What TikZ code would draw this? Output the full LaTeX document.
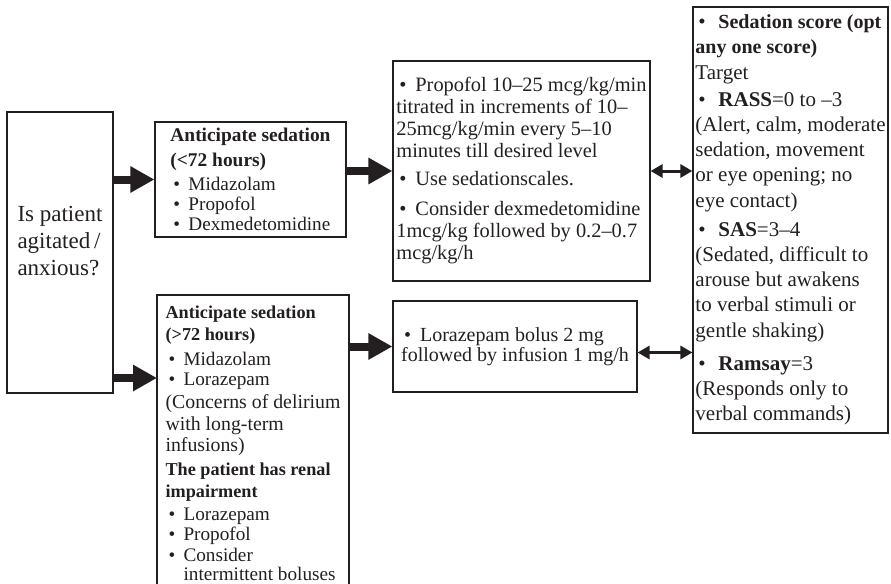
\documentclass[tikz,border=0pt]{standalone}
\usepackage{fontspec}
\setmainfont{Liberation Serif}
\usetikzlibrary{arrows.meta}
\definecolor{ink}{HTML}{231F20}
\newcommand{\bul}[1][9pt]{\makebox[#1][l]{\hspace{1.5pt}\textbullet}}
\newcommand{\itm}[1]{{\fontsize{9.6}{10}\selectfont\bul #1}}
\newcommand{\boxhead}[2][9.2]{{\fontsize{#1}{10}\selectfont\bfseries #2}}

\begin{document}
\begin{tikzpicture}[x=.5pt,y=-.5pt,line width=.6pt,every node/.style={text=ink},
  box/.style={draw=ink,align=left,inner xsep=1pt,inner ysep=0pt},
  fat/.style={ink,line width=4pt,-{Triangle[length=12pt,width=12.5pt]}},
  both/.style={ink,line width=1.5pt,{Triangle[length=6pt,width=6.5pt]}-{Triangle[length=6pt,width=6.5pt]}}]
\useasboundingbox (0,0) rectangle (891,584);

% question on the left
\node[box,minimum width=53pt,minimum height=140.5pt,font=\fontsize{11.5}{13.5}\selectfont] (ask) at (60,252.5)
  {Is patient\\agitated\,/\\anxious?\\[-1.5pt]\mbox{}};

% the two sedation branches
\node[box,minimum width=95.5pt,minimum height=57.5pt,font=\fontsize{9.6}{10}\selectfont] (short) at (250.5,179.5)
  {\boxhead[9.7]{Anticipate sedation}\\[2.5pt]
   \boxhead[9.7]{(<72 hours)}\\[2pt]
   \itm{Midazolam}\\
   \itm{Propofol}\\
   \itm{Dexmedetomidine}};
\node[box,minimum width=96pt,minimum height=148.5pt,font=\fontsize{9.9}{10}\selectfont] (long) at (253,443.5)
  {\boxhead[9.1]{Anticipate sedation}\\[1pt]
   \boxhead[9.1]{(>72 hours)}\\[2.5pt]
   \itm{Midazolam}\\
   \itm{Lorazepam}\\[1.5pt]
   (Concerns of delirium\\[1pt]
   with long-term\\[0.5pt]
   infusions)\\[2pt]
   \boxhead[9.1]{The patient has renal}\\[1pt]
   \boxhead[9.1]{impairment}\\[1.5pt]
   \itm{Lorazepam}\\
   \itm{Propofol}\\[0.5pt]
   \itm{Consider}\\[-0.5pt]
   {\fontsize{9.6}{10}\selectfont\hspace*{9pt}intermittent boluses}};

% dosing
\node[box,minimum width=128.5pt,minimum height=110pt,font=\fontsize{10.2}{11}\selectfont] (titrate) at (521.5,171)
  {\bul[9.5pt]Propofol 10–25 mcg/kg/min\\
   titrated in increments of 10–\\
   25mcg/kg/min every 5–10\\
   minutes till desired level\\[3pt]
   \bul[9.5pt]Use sedationscales.\\[4pt]
   \bul[9.5pt]Consider dexmedetomidine\\
   1mcg/kg followed by 0.2–0.7\\
   mcg/kg/h};
\node[box,minimum width=122pt,minimum height=45.5pt,font=\fontsize{10}{10}\selectfont] (dose) at (515,346.5)
  {\bul[9.5pt]Lorazepam bolus 2 mg\\
   followed by infusion 1 mg/h};

% targets
\node[box,inner xsep=.5pt,minimum width=97.5pt,minimum height=213pt,font=\fontsize{10.5}{12.6}\selectfont] (scores) at (790.5,220)
  {\bul[11.5pt]\boxhead[10]{Sedation score (opt}\\
   \boxhead[10]{any one score)}\\
   Target\\[1pt]
   \bul[11.5pt]\textbf{RASS}=0 to –3\\
   (Alert, calm, moderate\\
   sedation, movement\\
   or eye opening; no\\
   eye contact)\\[2pt]
   \bul[11.5pt]\textbf{SAS}=3–4\\
   (Sedated, difficult to\\
   arouse but awakens\\
   to verbal stimuli or\\
   gentle shaking)\\[4pt]
   \bul[11.5pt]\textbf{Ramsay}=3\\
   (Responds only to\\
   verbal commands)};

\coordinate (lowin) at (157,378);

\draw[fat] (ask.east |- short.west) -- (short.west);
\draw[fat] (ask.east |- lowin) -- (lowin);
\draw[fat] (short.east |- titrate.west) -- (titrate.west);
\draw[fat] (long.east |- dose.west) -- (dose.west);
\draw[both] (titrate.east) -- (titrate.east -| scores.west);
\draw[both] ([yshift=-3pt]dose.east) -- ([yshift=-3pt]dose.east -| scores.west);
\end{tikzpicture}
\end{document}
